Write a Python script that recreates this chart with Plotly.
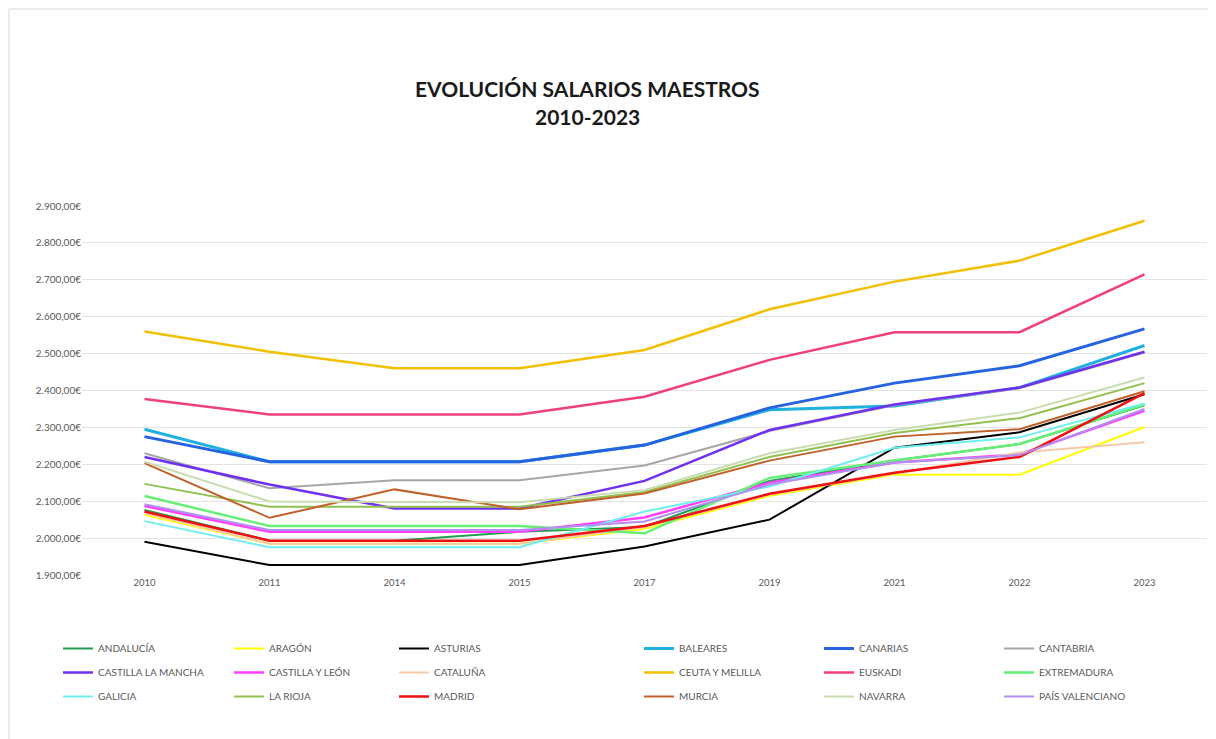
import plotly.graph_objects as go

years = ["2010", "2011", "2014", "2015", "2017", "2019", "2021", "2022", "2023"]

andalucia = [2076, 1993, 1993, 2017, 2030, 2155, 2210, 2255, 2360]
aragon = [2063, 1985, 1985, 1985, 2025, 2115, 2172, 2172, 2301]
asturias = [1990, 1927, 1927, 1927, 1977, 2050, 2245, 2287, 2390]
baleares = [2295, 2207, 2207, 2207, 2252, 2348, 2358, 2408, 2522]
canarias = [2275, 2207, 2207, 2207, 2252, 2353, 2420, 2467, 2567]
cantabria = [2230, 2135, 2157, 2157, 2197, 2290, 2360, 2406, 2503]
castilla_mancha = [2220, 2145, 2080, 2080, 2155, 2293, 2362, 2408, 2505]
castilla_leon = [2087, 2017, 2017, 2017, 2056, 2150, 2205, 2227, 2345]
cataluna = [2068, 1985, 1985, 1985, 2030, 2118, 2175, 2232, 2260]
ceuta_melilla = [2560, 2505, 2460, 2460, 2510, 2620, 2695, 2752, 2860]
euskadi = [2377, 2335, 2335, 2335, 2383, 2483, 2558, 2558, 2715]
extremadura = [2114, 2033, 2033, 2033, 2013, 2163, 2210, 2255, 2362]
galicia = [2046, 1975, 1975, 1975, 2072, 2140, 2245, 2273, 2365]
la_rioja = [2147, 2085, 2085, 2085, 2125, 2220, 2285, 2325, 2420]
madrid = [2072, 1993, 1993, 1993, 2033, 2120, 2177, 2220, 2393]
murcia = [2203, 2055, 2132, 2078, 2121, 2210, 2275, 2295, 2398]
navarra = [2207, 2099, 2098, 2097, 2130, 2230, 2293, 2340, 2435]
pais_valenciano = [2092, 2022, 2022, 2022, 2045, 2145, 2205, 2225, 2350]

series_names = ["ANDALUCÍA", "ARAGÓN", "ASTURIAS", "BALEARES", "CANARIAS", "CANTABRIA",
                "CASTILLA LA MANCHA", "CASTILLA Y LEÓN", "CATALUÑA", "CEUTA Y MELILLA",
                "EUSKADI", "EXTREMADURA", "GALICIA", "LA RIOJA", "MADRID", "MURCIA",
                "NAVARRA", "PAÍS VALENCIANO"]
series_values = [andalucia, aragon, asturias, baleares, canarias, cantabria,
                 castilla_mancha, castilla_leon, cataluna, ceuta_melilla,
                 euskadi, extremadura, galicia, la_rioja, madrid, murcia,
                 navarra, pais_valenciano]
series_colors = ["#1e9e50", "#ffff00", "#000000", "#1fb0e0", "#2563e0", "#a6a6a6",
                 "#7030f0", "#ff40ff", "#f4c9a8", "#f2c000",
                 "#f0407a", "#66ee77", "#70eeee", "#92c050", "#ee1111", "#c0602a",
                 "#c8dcb0", "#b090f0"]
series_widths = [2, 2, 2, 3, 3, 2, 2.5, 2.5, 2, 2.5, 2.5, 2.5, 2, 2, 2.5, 2, 2, 2]

fig = go.Figure()
legend_ids = ["legend", "legend2", "legend3", "legend4", "legend5", "legend6"]
for i, (name, vals, col, w) in enumerate(zip(series_names, series_values, series_colors, series_widths)):
    fig.add_trace(go.Scatter(
        x=years, y=vals, name=name, mode="lines",
        line=dict(color=col, width=w),
        legend=legend_ids[i % 6], legendgroup=name,
    ))

# page offset (body margin) and figure size
OFF = 8
W, H = 1208, 731
# plot area in screen pixels
SL, SR, ST, SB = 82, 1207, 206, 575
L = SL - OFF
T = ST - OFF
R = W - (SR - OFF)
B = H - (SB - OFF)
pw, ph = W - L - R, H - T - B

def px(sx):
    return (sx - SL) / pw

def py(sy):
    return (SB - sy) / ph

col_starts = [58, 229, 394, 639, 819, 999]
base_font = "Lato, 'Open Sans', sans-serif"
legend_font = dict(family=base_font, size=10, color="#595959")
legend_layout = {}
for lid, cx in zip(legend_ids, col_starts):
    legend_layout[lid] = dict(
        x=px(cx), y=py(634), xanchor="left", yanchor="top",
        orientation="v", font=legend_font, bgcolor="rgba(0,0,0,0)",
        tracegroupgap=5, traceorder="grouped", itemwidth=30,
    )

fig.update_layout(
    width=W, height=H,
    margin=dict(l=L, r=R, t=T, b=B),
    paper_bgcolor="white", plot_bgcolor="white",
    separators=",.",
    showlegend=True,
    **legend_layout,
    xaxis=dict(
        type="category", range=[-0.5, 8.5], showgrid=False, zeroline=False,
        showline=False, ticks="",
        tickfont=dict(family=base_font, size=9.5, color="#595959"),
    ),
    yaxis=dict(
        range=[1900, 2900], dtick=100, tickformat=",.2f", ticksuffix="€",
        showgrid=True, gridcolor="#e3e3e3", gridwidth=1, zeroline=False,
        showline=False, ticks="",
        tickfont=dict(family=base_font, size=10, color="#595959"),
    ),
    annotations=[
        dict(text="<b>EVOLUCIÓN SALARIOS MAESTROS</b>", xref="paper", yref="paper",
             x=px(587), y=py(88), xanchor="center", yanchor="middle", showarrow=False,
             font=dict(family=base_font, size=21, color="#1a1a1a")),
        dict(text="<b>2010-2023</b>", xref="paper", yref="paper",
             x=px(587), y=py(117), xanchor="center", yanchor="middle", showarrow=False,
             font=dict(family=base_font, size=21, color="#1a1a1a")),
    ],
    shapes=[
        dict(type="rect", xref="paper", yref="paper",
             x0=px(9), x1=px(1260), y0=py(780), y1=py(9),
             line=dict(color="#d9d9d9", width=1), fillcolor="rgba(0,0,0,0)", layer="below"),
    ],
)

fig.write_html("out.html")
